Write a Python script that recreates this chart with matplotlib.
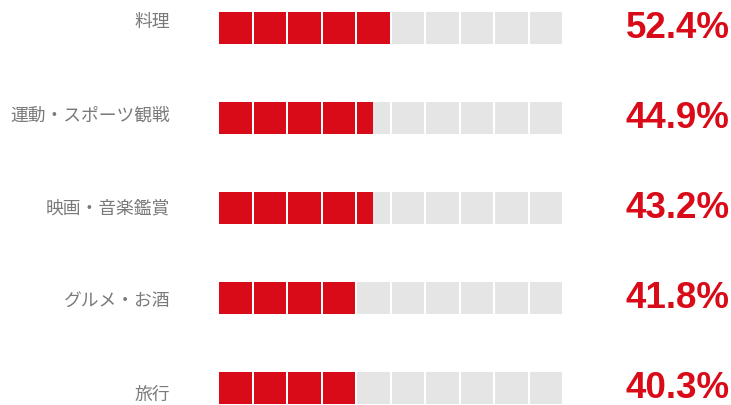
import matplotlib
matplotlib.use('Agg')
import matplotlib.pyplot as plt
from matplotlib.patches import Rectangle

categories = ['料理', '運動・スポーツ観戦', '映画・音楽鑑賞', 'グルメ・お酒', '旅行']
values = [52.4, 44.9, 43.2, 41.8, 40.3]

n_cells = 10
red = '#d90b18'
gray = '#e5e5e5'

fig = plt.figure(figsize=(7.31, 4.05), dpi=100)
ax = fig.add_axes([0, 0, 1, 1])
# x en unites de case, y en lignes
ax.set_xlim(-219.3 / 34.47, (731 - 219.3) / 34.47)
ax.set_ylim((405 - 28) / 90, -28 / 90)
ax.axis('off')

cw = 0.946
ch = 0.356

for i, (cat, val) in enumerate(zip(categories, values)):
    # remplissage arrondi a la demi-case
    fill = round(val / 10 * 2) / 2
    for j in range(n_cells):
        ax.add_patch(Rectangle((j, i - ch / 2), cw, ch, color=gray, lw=0))
        part = min(max(fill - j, 0), 1)
        if part > 0:
            ax.add_patch(Rectangle((j, i - ch / 2), cw * part, ch, color=red, lw=0))

    ax.text(-1.43, (22.5 + 93 * i - 28) / 90, cat, ha='right', va='center',
            fontsize=12.8, color='#7a7a7a', family=['Noto Sans CJK JP', 'DejaVu Sans'])
    ax.text(14.8, i, f'{val:.1f}%', ha='right', va='center',
            fontsize=26.5, fontweight='bold', color=red, family='Liberation Sans')

fig.savefig('out.png', dpi=100)
